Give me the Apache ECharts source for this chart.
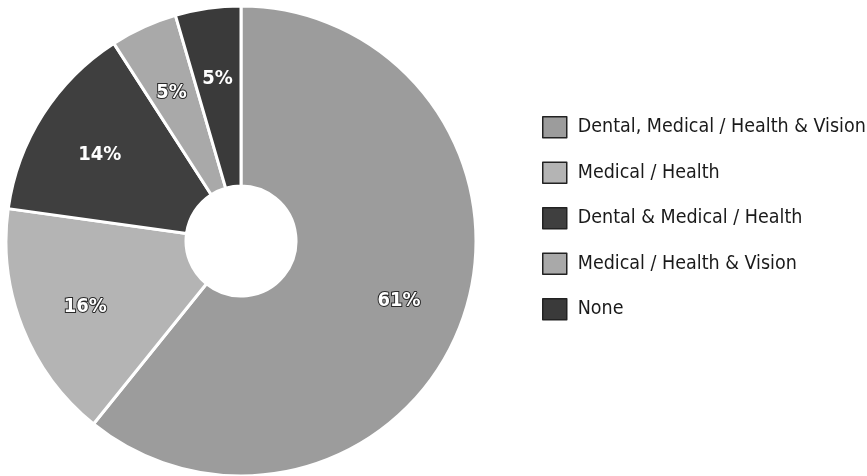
<!DOCTYPE html>
<html>
<head>
<meta charset="utf-8">
<script src="https://cdn.jsdelivr.net/npm/echarts@6/dist/echarts.min.js"></script>
<style>
html,body{margin:0;padding:0;background:#fff;}
#chart{width:867px;height:476px;}
</style>
</head>
<body>
<div id="chart"></div>
<script>
var categories = ["Dental, Medical / Health & Vision", "Medical / Health", "Dental & Medical / Health", "Medical / Health & Vision", "None"];
var values = [60.8, 16.4, 13.7, 4.6, 4.5];
var colors = ["#9c9c9c", "#b4b4b4", "#3f3f3f", "#a9a9a9", "#3a3a3a"];
var darkSlice = [false, false, true, false, true];

var chart = echarts.init(document.getElementById('chart'), null, {renderer: 'canvas'});

var mainData = categories.map(function (c, i) {
  return { name: c, value: values[i], itemStyle: { color: colors[i] } };
});
var labelData = categories.map(function (c, i) {
  return {
    name: c, value: values[i],
    label: {
      textBorderColor: darkSlice[i] ? 'transparent' : '#2a2a2a',
      textBorderWidth: darkSlice[i] ? 0 : 2
    }
  };
});

chart.setOption({
  animation: false,
  legend: {
    orient: 'vertical',
    left: 537,
    top: 111,
    itemWidth: 24,
    itemHeight: 21,
    itemGap: 23,
    icon: 'rect',
    selectedMode: false,
    textStyle: { fontFamily: 'DejaVu Sans Condensed', fontSize: 19.5, lineHeight: 21, color: '#1a1a1a', padding: [0, 0, 0, 6] },
    data: categories.map(function (c, i) {
      return { name: c, itemStyle: { color: colors[i], borderColor: '#222', borderWidth: 1.5 } };
    })
  },
  series: [
    {
      type: 'pie',
      center: [241, 241],
      radius: [55, 235],
      startAngle: 90,
      clockwise: true,
      silent: true,
      label: { show: false },
      labelLine: { show: false },
      itemStyle: { borderColor: '#fff', borderWidth: 3 },
      data: mainData
    },
    {
      type: 'pie',
      center: [241, 241],
      radius: [94, 235],
      startAngle: 90,
      clockwise: true,
      silent: true,
      legendHoverLink: false,
      itemStyle: { color: 'rgba(0,0,0,0)' },
      label: {
        show: true,
        position: 'inside',
        formatter: function (p) { return Math.round(p.value) + '%'; },
        fontFamily: 'DejaVu Sans Condensed',
        fontWeight: 'bold',
        fontSize: 20,
        color: '#fff'
      },
      labelLayout: { dy: 4 },
      labelLine: { show: false },
      data: labelData
    }
  ]
});
</script>
</body>
</html>
